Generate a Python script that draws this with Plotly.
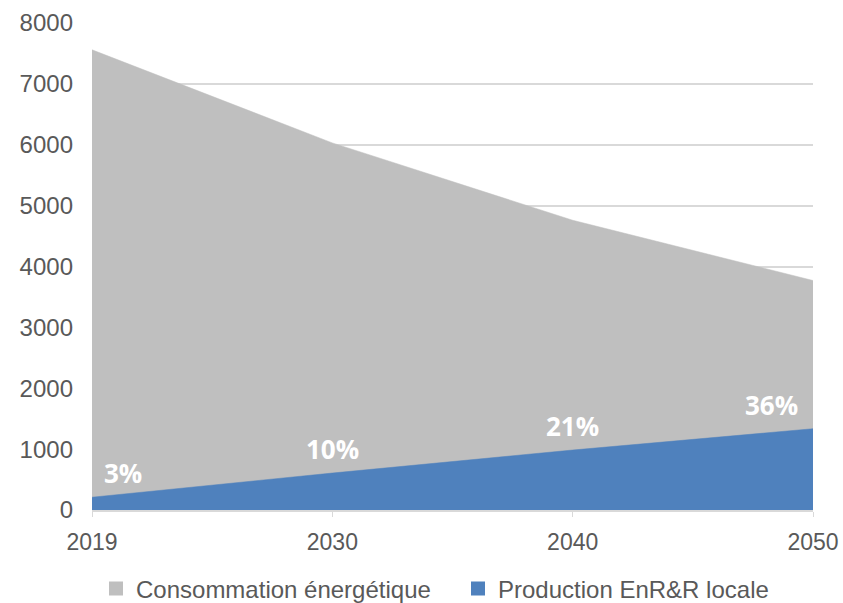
import plotly.graph_objects as go

years = ["2019", "2030", "2040", "2050"]
consommation = [7560, 6030, 4760, 3770]
production = [210, 607, 985, 1335]
pct_labels = ["3%", "10%", "21%", "36%"]
y_ticks = [0, 1000, 2000, 3000, 4000, 5000, 6000, 7000, 8000]

GREY = "#bfbfbf"
BLUE = "#4f81bd"
TXT = "#595959"
GRID = "#d9d9d9"

fig = go.Figure()
fig.add_trace(go.Scatter(x=years, y=consommation, mode="lines", fill="tozeroy",
                         fillcolor=GREY, line=dict(color=GREY, width=0.5),
                         showlegend=False, hoverinfo="skip"))
fig.add_trace(go.Scatter(x=years, y=production, mode="lines", fill="tozeroy",
                         fillcolor=BLUE, line=dict(color=BLUE, width=0.5),
                         showlegend=False, hoverinfo="skip"))
# legend entries
fig.add_trace(go.Scatter(x=[None], y=[None], mode="markers", name="Consommation énergétique",
                         marker=dict(symbol="square", size=14, color=GREY), legend="legend"))
fig.add_trace(go.Scatter(x=[None], y=[None], mode="markers", name="Production EnR&R locale",
                         marker=dict(symbol="square", size=14, color=BLUE), legend="legend2"))

xshifts = [31, 0, 0, -42]
for i, (v, lab) in enumerate(zip(production, pct_labels)):
    fig.add_annotation(x=i, xref="x", y=v, yref="y", text="<b>%s</b>" % lab,
                       showarrow=False, yshift=24, xshift=xshifts[i],
                       font=dict(family="Open Sans", size=26, color="white"))

leg_common = dict(orientation="h", y=-0.162, yanchor="middle", xanchor="left",
                  font=dict(size=24, color=TXT), itemwidth=30, bgcolor="rgba(0,0,0,0)")
fig.update_layout(
    width=843, height=603,
    margin=dict(l=92, r=30, t=23, b=93, autoexpand=False),
    paper_bgcolor="white", plot_bgcolor="white",
    font=dict(family="Liberation Sans, Arial", size=24, color=TXT),
    legend=dict(x=(96 - 92) / 721, **leg_common),
    legend2=dict(x=(458 - 92) / 721, **leg_common),
)
fig.update_xaxes(type="category", range=[0, 3], showgrid=False,
                 showline=True, linecolor=GRID, linewidth=1.5,
                 ticks="outside", ticklen=5, tickcolor=GRID,
                 tickfont=dict(size=23, color=TXT), ticklabelstandoff=6)
fig.update_yaxes(range=[0, 8000], tickvals=y_ticks, showgrid=True, gridcolor=GRID,
                 gridwidth=1.5, zeroline=False, showline=False,
                 tickfont=dict(size=24, color=TXT), ticklabelstandoff=18)

fig.write_html("out.html")
